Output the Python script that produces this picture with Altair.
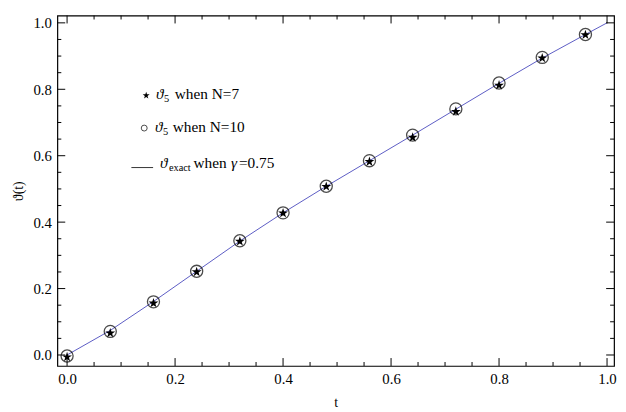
import altair as alt
import pandas as pd

# ---- data ----
t_pts = [0.0, 0.08, 0.16, 0.24, 0.32, 0.40, 0.48, 0.56, 0.64, 0.72, 0.80, 0.88, 0.96]
theta_n7 = [-0.006, 0.066, 0.156, 0.250, 0.342, 0.427, 0.507, 0.582, 0.655, 0.733, 0.812, 0.894, 0.964]
theta_n10 = [-0.003, 0.071, 0.160, 0.252, 0.344, 0.428, 0.508, 0.585, 0.662, 0.741, 0.819, 0.896, 0.965]
t_exact = [0.0, 0.08, 0.16, 0.24, 0.32, 0.40, 0.48, 0.56, 0.64, 0.72, 0.80, 0.88, 0.96, 1.0]
theta_exact = [0.0, 0.074, 0.161, 0.252, 0.343, 0.428, 0.508, 0.585, 0.662, 0.740, 0.818, 0.894, 0.965, 1.0]

x_major = [0.0, 0.2, 0.4, 0.6, 0.8, 1.0]
x_minor = [0.05, 0.1, 0.15, 0.25, 0.3, 0.35, 0.45, 0.5, 0.55, 0.65, 0.7, 0.75, 0.85, 0.9, 0.95]
y_major = [0.0, 0.2, 0.4, 0.6, 0.8, 1.0]
y_minor = [0.05, 0.1, 0.15, 0.25, 0.3, 0.35, 0.45, 0.5, 0.55, 0.65, 0.7, 0.75, 0.85, 0.9, 0.95]

W, H = 564, 355
FONT = "Liberation Serif"
LINE_COLOR = "#5b5bc4"
STAR = ("M0,-1L0.2245,-0.309L0.951,-0.309L0.363,0.118L0.588,0.809L0,0.382"
        "L-0.588,0.809L-0.363,0.118L-0.951,-0.309L-0.2245,-0.309Z")

xs = alt.Scale(domain=[-0.018, 1.013], nice=False, zero=False)
ys = alt.Scale(domain=[-0.033, 1.022], nice=False, zero=False)

pts = pd.DataFrame({"t": t_pts, "n7": theta_n7, "n10": theta_n10})
ex = pd.DataFrame({"t": t_exact, "v": theta_exact})

xaxis = alt.Axis(values=x_major, format=".1f", title="t", labelPadding=6, titlePadding=9, orient="bottom")
yaxis = alt.Axis(values=y_major, format=".1f", title="ϑ(t)", labelPadding=6, titlePadding=8, orient="left")

line = alt.Chart(ex).mark_line(color=LINE_COLOR, strokeWidth=1).encode(
    x=alt.X("t:Q", scale=xs, axis=xaxis),
    y=alt.Y("v:Q", scale=ys, axis=yaxis),
)
circles = alt.Chart(pts).mark_point(shape="circle", filled=False, color="black", size=150, strokeWidth=1.3).encode(
    x=alt.X("t:Q", scale=xs), y=alt.Y("n10:Q", scale=ys)
)
stars = alt.Chart(pts).mark_point(shape=STAR, filled=True, color="black", size=110, opacity=1).encode(
    x=alt.X("t:Q", scale=xs), y=alt.Y("n7:Q", scale=ys)
)

def xticks(vals, length, top):
    df = pd.DataFrame({"t": vals})
    if top:
        return alt.Chart(df).mark_rule(color="black", strokeWidth=1).encode(
            x=alt.X("t:Q", scale=xs), y=alt.value(0), y2=alt.value(length))
    return alt.Chart(df).mark_rule(color="black", strokeWidth=1).encode(
        x=alt.X("t:Q", scale=xs), y=alt.value(H), y2=alt.value(H - length))

def yticks(vals, length, right):
    df = pd.DataFrame({"v": vals})
    if right:
        return alt.Chart(df).mark_rule(color="black", strokeWidth=1).encode(
            y=alt.Y("v:Q", scale=ys), x=alt.value(W), x2=alt.value(W - length))
    return alt.Chart(df).mark_rule(color="black", strokeWidth=1).encode(
        y=alt.Y("v:Q", scale=ys), x=alt.value(0), x2=alt.value(length))

ticks = [
    xticks(x_major, 8, False), xticks(x_minor, 4, False),
    xticks(x_major, 8, True), xticks(x_minor, 4, True),
    yticks(y_major, 8, False), yticks(y_minor, 4, False),
    yticks(y_major, 8, True), yticks(y_minor, 4, True),
]

# ---- legend (annotation inside the plot) ----
one = pd.DataFrame({"a": [0]})

def txt(s, x, y, size=15.5, italic=False):
    kw = {"fontStyle": "italic"} if italic else {}
    return alt.Chart(one).mark_text(text=s, font=FONT, fontSize=size, align="left",
                                     baseline="alphabetic", color="black", **kw).encode(
        x=alt.value(x), y=alt.value(y))

leg_star = alt.Chart(one).mark_point(shape=STAR, filled=True, color="black", size=55, opacity=1).encode(
    x=alt.value(90), y=alt.value(81))
leg_circle = alt.Chart(one).mark_point(shape="circle", filled=False, color="black", size=36, strokeWidth=1).encode(
    x=alt.value(88), y=alt.value(114))
leg_line = alt.Chart(one).mark_rule(color="black", strokeWidth=0.8).encode(
    x=alt.value(75), x2=alt.value(97), y=alt.value(154))

legend = [
    leg_star, txt("ϑ", 100, 85, italic=True), txt("5", 108, 88, 10.5), txt("when N=7", 119, 85),
    leg_circle, txt("ϑ", 99, 118, italic=True), txt("5", 107, 121, 10.5), txt("when N=10", 117, 118),
    leg_line, txt("ϑ", 104, 154, italic=True), txt("exact", 113, 157, 10.5),
    txt("when", 138, 154), txt("γ", 176, 154, italic=True), txt("=0.75", 184, 154),
]

chart = alt.layer(line, circles, stars, *ticks, *legend).properties(
    width=W, height=H,
    padding={"left": 50, "top": 5, "right": 4, "bottom": 44},
    autosize=alt.AutoSizeParams(type="none"),
).configure_view(stroke="black", strokeWidth=1.2).configure_axis(
    grid=False, ticks=False, domain=False,
    labelFont=FONT, labelFontSize=15, labelColor="black",
    titleFont=FONT, titleFontSize=14, titleColor="black", titleFontWeight="normal",
)

chart.save("out.html", embed_options={"renderer": "svg", "actions": False})
